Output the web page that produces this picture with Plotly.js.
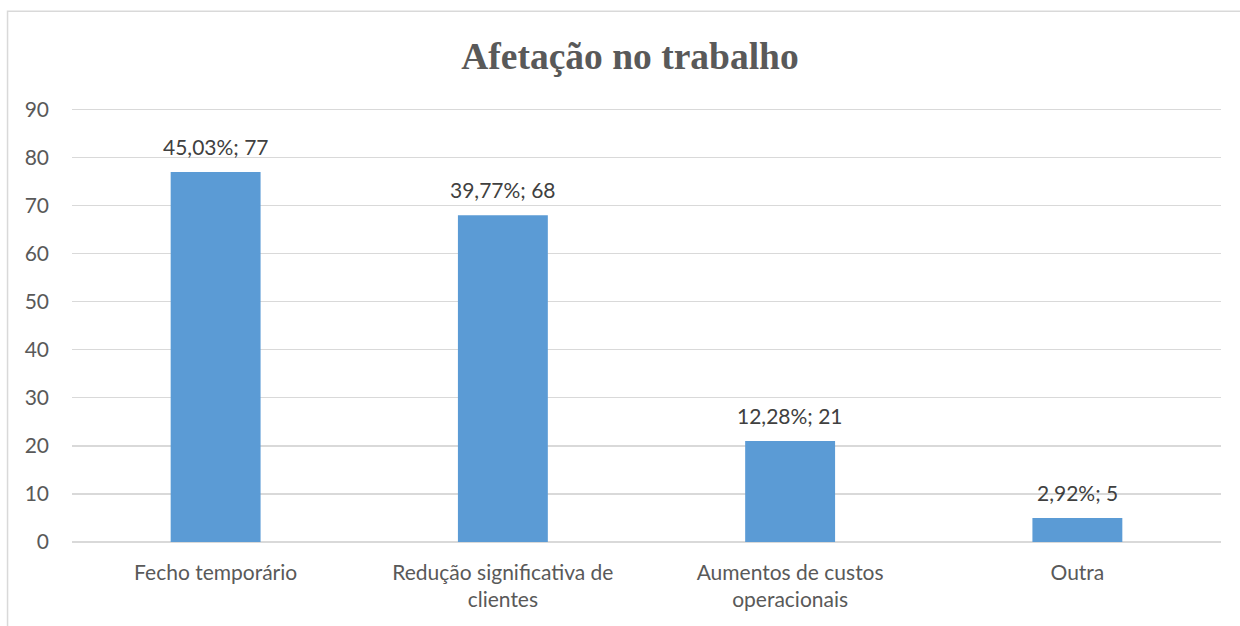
<!DOCTYPE html>
<html><head><meta charset="utf-8">
<script src="https://cdn.plot.ly/plotly-3.0.1.min.js"></script>
<style>html,body{margin:0;padding:0;background:#fff;}</style>
</head><body>
<div id="chart" style="width:1240px;height:626px;"></div>
<script>
const categories = ["Fecho temporário", "Redução significativa de<br>clientes", "Aumentos de custos<br>operacionais", "Outra"];
const counts = [77, 68, 21, 5];
const percents = ["45,03%", "39,77%", "12,28%", "2,92%"];
const yTicks = [0, 10, 20, 30, 40, 50, 60, 70, 80, 90];

const labelFont = {family: "Lato, 'Open Sans', sans-serif", size: 21, color: "#595959"};

const trace = {
  type: "bar",
  x: categories,
  y: counts,
  marker: {color: "#5b9bd5"},
  width: 0.313,
  hoverinfo: "skip"
};

const annotations = categories.map((c, i) => ({
  x: c, y: counts[i], xref: "x", yref: "y",
  text: percents[i] + "; " + counts[i],
  showarrow: false, yanchor: "bottom", yshift: 11,
  font: {family: "Lato, 'Open Sans', sans-serif", size: 21, color: "#404040"}
}));

// plot area: y from 0 to 90.5 so the 90 gridline is drawn
const yMax = 90.5;
const pxPerUnit = 433 / 90;
const topMargin = Math.round(109 - (yMax - 90) * pxPerUnit);

const layout = {
  width: 1240, height: 626,
  margin: {l: 72, r: 19, t: topMargin, b: 84, pad: 0},
  paper_bgcolor: "#ffffff", plot_bgcolor: "#ffffff",
  title: {text: "<b>Afetação no trabalho</b>", x: 630 / 1240, xanchor: "center", xref: "container",
          y: 1 - 56 / 626, yanchor: "middle", yref: "container",
          font: {family: "'Liberation Serif', 'Times New Roman', serif", size: 37.5, color: "#595959"}},
  showlegend: false,
  bargap: 0.687,
  xaxis: {type: "category", tickfont: labelFont, showgrid: false, zeroline: false, showline: false,
          ticks: "", ticklabelstandoff: 16, fixedrange: true},
  yaxis: {range: [0, yMax], tickvals: yTicks, ticktext: yTicks.map(String), tickfont: labelFont,
          showgrid: true, gridcolor: "#d9d9d9", gridwidth: 1.3, zeroline: true, zerolinecolor: "#d9d9d9",
          zerolinewidth: 1.3, showline: false, ticks: "", ticklabelstandoff: 22, fixedrange: true},
  annotations: annotations,
  shapes: [{type: "path", xref: "paper", yref: "paper",
            path: "M -0.0561,-0.3 L -0.0561,1.22 L 1.05,1.22",
            line: {color: "#d9d9d9", width: 1.5}}]
};

Plotly.newPlot("chart", [trace], layout, {displayModeBar: false, staticPlot: true});
</script>
</body></html>
